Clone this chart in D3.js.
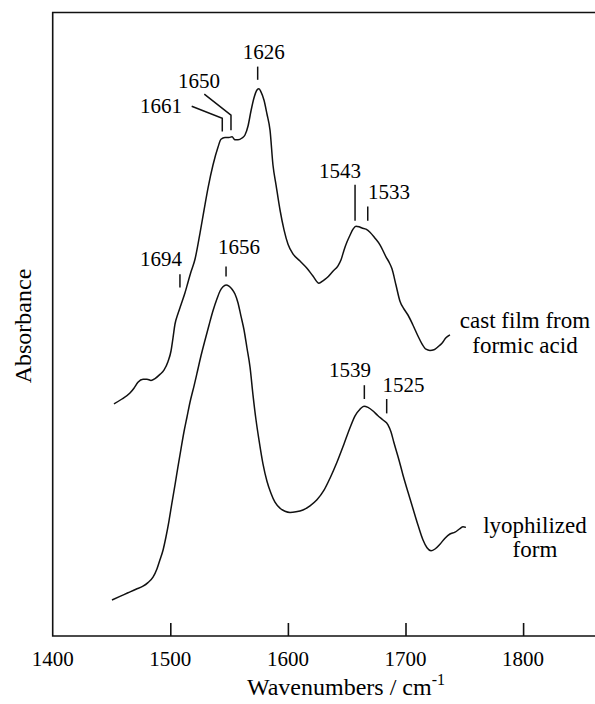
<!DOCTYPE html>
<html>
<head>
<meta charset="utf-8">
<script src="https://cdn.jsdelivr.net/npm/d3@7/dist/d3.min.js"></script>
<style>
  html, body { margin: 0; padding: 0; background: #fff; }
  svg { display: block; }
</style>
</head>
<body>
<svg id="chart" width="595" height="704" font-family="'Liberation Serif', 'DejaVu Serif', 'Times New Roman', Times, serif"></svg>
<script>
// ---------- DATA ----------
const xTicks = [1400, 1500, 1600, 1700, 1800];
const xTickMarks = [1500, 1600, 1700, 1800];

// cast film from formic acid (upper trace)
const castWave = [1452.1,1458.9,1465.7,1469.1,1472.5,1476.8,1480.2,1483.6,1487.0,1491.2,1494.6,1498.0,1500.6,1502.3,1504.0,1506.5,1509.1,1512.5,1515.1,1517.6,1521.0,1525.3,1528.7,1532.1,1536.3,1540.6,1543.1,1546.5,1549.9,1552.5,1555.0,1557.6,1561.0,1563.5,1566.1,1568.6,1571.2,1573.7,1575.4,1577.1,1579.7,1582.2,1584.8,1587.3,1589.9,1593.3,1596.7,1600.1,1604.3,1610.3,1616.2,1621.3,1626.4,1629.8,1633.2,1638.3,1642.6,1645.2,1647.7,1650.3,1652.8,1655.4,1657.9,1660.5,1663.0,1666.4,1669.8,1674.1,1678.3,1683.4,1686.0,1688.5,1691.9,1695.3,1698.7,1702.1,1706.4,1710.6,1714.0,1717.4,1720.8,1724.2,1727.6,1731.0,1734.4,1737.8];
const castAbs = [0.387,0.395,0.405,0.413,0.423,0.428,0.428,0.426,0.429,0.436,0.443,0.457,0.475,0.497,0.520,0.537,0.552,0.572,0.590,0.607,0.628,0.672,0.710,0.747,0.785,0.815,0.828,0.831,0.831,0.832,0.827,0.827,0.830,0.835,0.850,0.875,0.897,0.910,0.912,0.907,0.893,0.870,0.843,0.785,0.752,0.710,0.677,0.653,0.637,0.625,0.613,0.600,0.588,0.592,0.597,0.608,0.617,0.627,0.643,0.657,0.668,0.678,0.683,0.682,0.680,0.678,0.673,0.663,0.652,0.632,0.623,0.612,0.585,0.558,0.545,0.535,0.518,0.500,0.487,0.478,0.476,0.477,0.482,0.488,0.497,0.502];

// lyophilized form (lower trace)
const lyoWave = [1450.4,1457.2,1464.0,1470.8,1476.8,1481.0,1485.3,1488.7,1491.2,1493.8,1496.3,1498.9,1501.4,1504.0,1506.5,1509.1,1511.6,1514.2,1516.8,1520.2,1522.7,1526.1,1529.5,1532.9,1536.3,1539.7,1542.3,1544.8,1547.4,1549.9,1552.5,1555.0,1557.6,1560.1,1562.7,1565.2,1567.8,1570.3,1572.9,1575.4,1578.8,1582.2,1585.6,1589.0,1593.3,1597.5,1601.8,1606.9,1612.8,1618.8,1624.7,1630.7,1635.8,1641.8,1647.7,1652.8,1657.1,1661.3,1664.7,1668.1,1672.4,1676.6,1680.9,1685.1,1687.7,1690.2,1694.5,1697.9,1702.1,1706.4,1710.6,1714.9,1718.3,1721.7,1725.1,1729.3,1733.6,1737.8,1742.1,1746.3,1748.9,1751.4];
const lyoAbs = [0.060,0.066,0.072,0.078,0.083,0.089,0.098,0.112,0.127,0.143,0.165,0.192,0.222,0.252,0.282,0.312,0.340,0.365,0.390,0.417,0.438,0.467,0.493,0.518,0.542,0.562,0.575,0.582,0.585,0.583,0.578,0.570,0.555,0.533,0.510,0.480,0.448,0.402,0.360,0.327,0.287,0.258,0.238,0.223,0.213,0.208,0.206,0.207,0.210,0.217,0.227,0.243,0.263,0.290,0.320,0.347,0.367,0.378,0.383,0.381,0.375,0.367,0.360,0.352,0.340,0.322,0.293,0.268,0.240,0.212,0.185,0.160,0.147,0.142,0.145,0.153,0.163,0.170,0.173,0.179,0.182,0.181];

// peak annotations: label, marker wavenumber, marker absorbance range, label anchor
const peakLabels = ["1626","1650","1661","1694","1656","1543","1533","1539","1525"];
const peakMarkX  = [1574.3,1551.6,1544.2,1508.2,1547.4,1657.1,1667.9,1665.0,1684.0];
const peakMarkTop    = [0.949,0.868,0.863,0.603,0.616,0.752,0.716,0.418,0.395];
const peakMarkBottom = [0.927,0.843,0.841,0.581,0.599,0.692,0.692,0.395,0.371];
const peakTextX = [1579.4,1524.4,1492.1,1492.1,1558.4,1644.3,1686.0,1652.8,1698.3];
const peakTextY = [0.962,0.913,0.872,0.617,0.637,0.763,0.728,0.4325,0.406];
// slanted leaders (start points) for crowded labels; null = straight marker only
const leaderStartX = [null,1528.9,1518.2,null,null,null,null,null,null];
const leaderStartY = [null,0.903,0.883,null,null,null,null,null,null];

const traceLabels = [["cast film from","formic acid"],["lyophilized","form"]];
const traceLabelX = [1801.6, 1810.1];
const traceLabelY = [[0.514,0.471],[0.171,0.1325]];

// ---------- CHART ----------
const svg = d3.select("#chart");
const plotL = 52.7, plotR = 595, plotT = 12.5, plotB = 636;

const x = d3.scaleLinear().domain([1400, 1400 + (plotR - plotL) / 1.176]).range([plotL, plotR]);
const y = d3.scaleLinear().domain([0, (plotB - plotT) / 600]).range([plotB, plotT]);

const ink = "#111";

// frame: left, top, bottom
svg.append("path")
  .attr("d", `M${plotR},${plotT}H${plotL}V${plotB}H${plotR}`)
  .attr("fill", "none").attr("stroke", ink).attr("stroke-width", 1.6);

// x ticks (inward)
const xAxis = d3.axisBottom(x).tickValues(xTickMarks).tickSize(-13).tickFormat("");
const gx = svg.append("g").attr("transform", `translate(0,${plotB})`).call(xAxis);
gx.select(".domain").remove();
gx.selectAll(".tick line").attr("stroke", ink).attr("stroke-width", 1.6);

svg.append("g").selectAll("text").data(xTicks).join("text")
  .attr("x", d => x(d)).attr("y", 666)
  .attr("text-anchor", "middle").attr("font-size", 21)
  .text(d => d);

// axis titles
const xt = svg.append("text").attr("x", 346).attr("y", 695)
  .attr("text-anchor", "middle").attr("font-size", 24);
xt.append("tspan").text("Wavenumbers / cm");
xt.append("tspan").attr("dy", -10).attr("font-size", 16).text("-1");

svg.append("text")
  .attr("transform", `translate(31,326) rotate(-90)`)
  .attr("text-anchor", "middle").attr("font-size", 24)
  .text("Absorbance");

// traces
const line = d3.line().x(d => x(d[0])).y(d => y(d[1])).curve(d3.curveMonotoneX);
[[castWave, castAbs],[lyoWave, lyoAbs]].forEach(([wv, ab]) => {
  svg.append("path")
    .datum(wv.map((w, i) => [w, ab[i]]))
    .attr("d", line)
    .attr("fill", "none").attr("stroke", ink).attr("stroke-width", 1.5)
    .attr("stroke-linejoin", "round");
});

// peak markers & labels
peakLabels.forEach((lab, i) => {
  let d = `M${x(peakMarkX[i])},${y(peakMarkBottom[i])}V${y(peakMarkTop[i])}`;
  if (leaderStartX[i] !== null) {
    d += `L${x(leaderStartX[i])},${y(leaderStartY[i])}`;
  }
  svg.append("path").attr("d", d).attr("fill", "none")
    .attr("stroke", ink).attr("stroke-width", 1.5);
  svg.append("text")
    .attr("x", x(peakTextX[i])).attr("y", y(peakTextY[i]))
    .attr("text-anchor", "middle").attr("font-size", 21)
    .text(lab);
});

// trace labels
traceLabels.forEach((lines, i) => {
  lines.forEach((t, j) => {
    svg.append("text")
      .attr("x", x(traceLabelX[i])).attr("y", y(traceLabelY[i][j]))
      .attr("text-anchor", "middle").attr("font-size", 23)
      .text(t);
  });
});
</script>
</body>
</html>
